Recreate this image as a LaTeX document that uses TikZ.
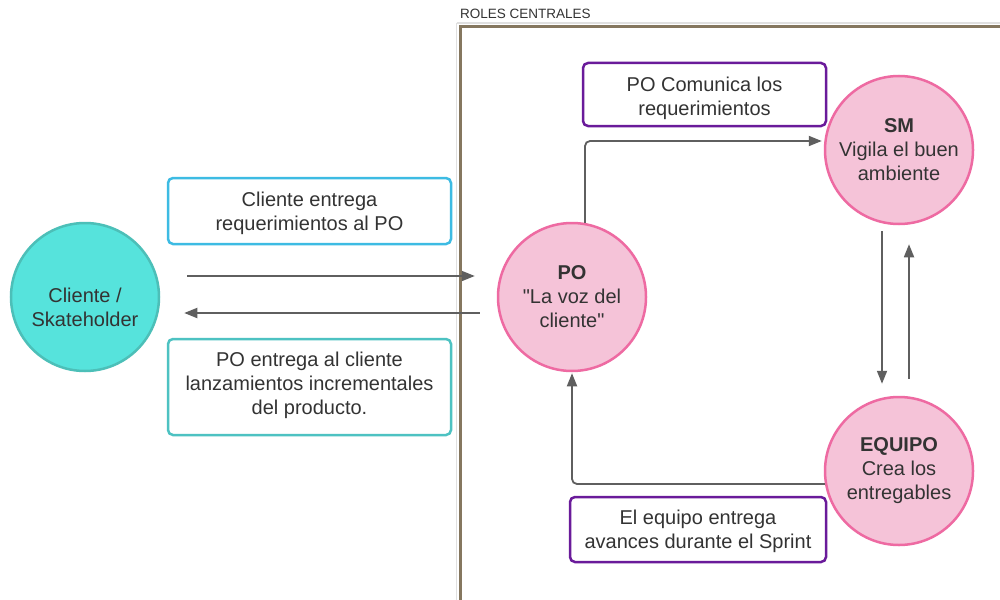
\documentclass[tikz,border=0pt]{standalone}
\usepackage{fontspec}
\setmainfont{Liberation Sans}
\usetikzlibrary{arrows.meta,calc}
\definecolor{txt}{HTML}{333333}
\definecolor{cyanfill}{HTML}{56E3DC}
\definecolor{cyanedge}{HTML}{4CBFB8}
\definecolor{pinkfill}{HTML}{F5C3D8}
\definecolor{pinkedge}{HTML}{EE6AA2}
\definecolor{blueedge}{HTML}{3DBBE3}
\definecolor{tealedge}{HTML}{4DC2C2}
\definecolor{purpleedge}{HTML}{6A1B9A}
\definecolor{frame}{HTML}{85775F}
\definecolor{arrowgray}{HTML}{5F5F5F}
\tikzset{
  base/.style={font=\fontsize{20}{24}\selectfont, text=txt, align=center},
  rolecircle/.style={circle, draw=pinkedge, fill=pinkfill, line width=2.5pt, minimum size=148pt, inner sep=0pt},
  clientcircle/.style={circle, draw=cyanedge, fill=cyanfill, line width=2.5pt, minimum size=148pt, inner sep=0pt},
  notebox/.style={draw, fill=white, rounded corners=5pt, line width=2.5pt, inner sep=0pt},
  arr/.style={draw=arrowgray, line width=1.8pt, -{Triangle[length=13pt,width=10pt]}},
}
\begin{document}
\begin{tikzpicture}[x=1pt,y=-1pt]
\useasboundingbox (0,0) rectangle (1000,599);
\clip (0,0) rectangle (1000,599);
\fill[white] (0,0) rectangle (1000,599);
% frame
\draw[line width=1.2pt, black!12] (456.5,23) -- (1010,23);
\draw[line width=1.2pt, black!12] (456.5,23) -- (456.5,610);
\draw[line width=3pt, frame] (460.5,26.5) rectangle (1020,620);
\node[anchor=west, inner sep=0pt, font=\fontsize{13.5}{16}\selectfont, text=txt] (title) at (460,14) {ROLES CENTRALES};
% circles
\node[clientcircle] (cli) at (85,297) {};
\node[base] (clitext) at (85,307) {Cliente /\\Skateholder};
\node[rolecircle, base] (po) at (572,297) {\textbf{PO}\\\textquotedbl La voz del\\cliente\textquotedbl};
\node[rolecircle, base] (sm) at (899,150) {\textbf{SM}\\Vigila el buen\\ambiente};
\node[rolecircle, base] (eq) at (899,471) {\textbf{EQUIPO}\\Crea los\\entregables};
% boxes
\node[notebox, draw=blueedge, minimum width=283pt, minimum height=66pt] (b1) at (309.5,211) {};
\node[base] (b1t) at (309.5,213) {Cliente entrega\\requerimientos al PO};
\node[notebox, draw=tealedge, minimum width=283pt, minimum height=96pt] (b2) at (309.5,387) {};
\node[base] (b2t) at (309.5,385.5) {PO entrega al cliente\\lanzamientos incrementales\\del producto.};
\node[notebox, draw=purpleedge, minimum width=243pt, minimum height=63pt] (b3) at (704.5,94.5) {};
\node[base] (b3t) at (704.5,98) {PO Comunica los\\requerimientos};
\node[notebox, draw=purpleedge, minimum width=256pt, minimum height=65pt] (b4) at (698,529.5) {};
\node[base] (b4t) at (698,531.5) {El equipo entrega\\avances durante el Sprint};
% arrows
\coordinate (ya) at (0,276);
\coordinate (yb) at (0,313);
\draw[arr, shorten <=27pt, shorten >=22pt] (cli.east |- ya) -- (po.west |- ya);
\draw[arr, shorten <=17pt, shorten >=24pt] (po.west |- yb) -- (cli.east |- yb);
\draw[arr, rounded corners=5pt, shorten >=2pt] ([xshift=13pt,yshift=-1pt]po.north) |- ([yshift=9pt]sm.west);
\draw[arr] ([xshift=-17pt,yshift=-6pt]sm.south) -- ([xshift=-17pt,yshift=12pt]eq.north);
\draw[arr] ([xshift=10pt,yshift=17pt]eq.north) -- ([xshift=10pt,yshift=-19pt]sm.south);
\draw[arr, rounded corners=5pt, shorten >=1pt] ([yshift=-13pt,xshift=1pt]eq.west) -| (po.south);
\end{tikzpicture}
\end{document}
